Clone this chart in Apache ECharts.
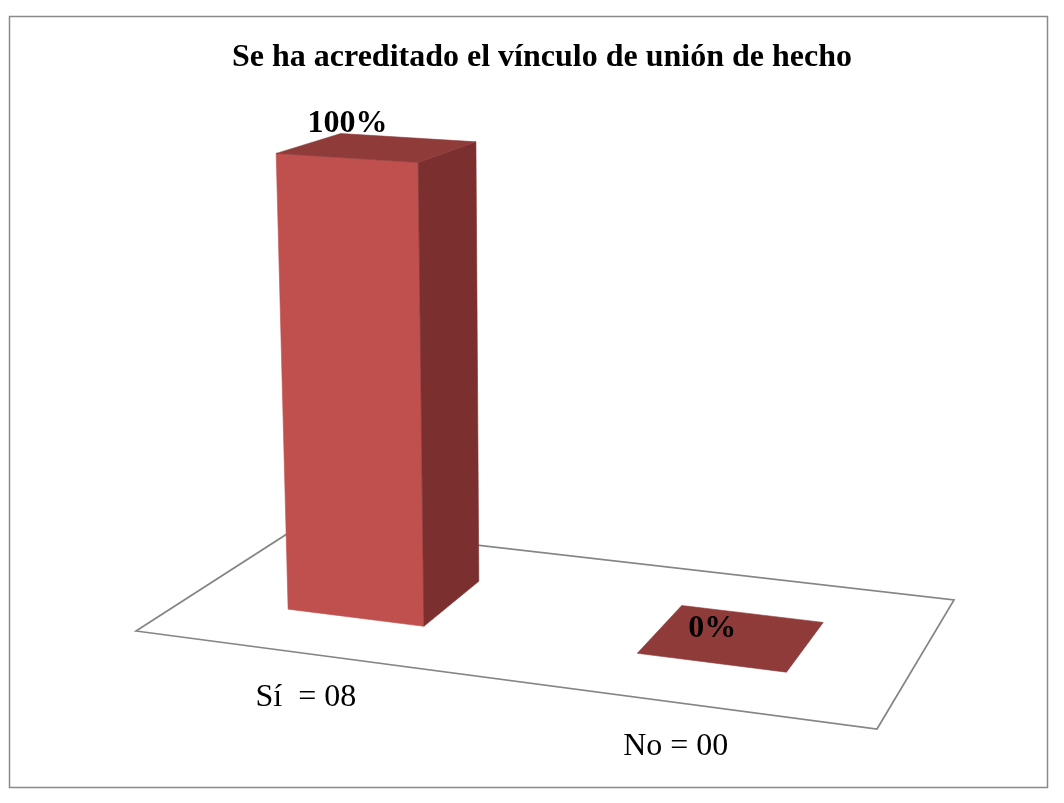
<!DOCTYPE html>
<html>
<head>
<meta charset="utf-8">
<script src="https://cdn.jsdelivr.net/npm/echarts@6/dist/echarts.min.js"></script>
<style>
html,body{margin:0;padding:0;background:#fff;}
#chart{width:1064px;height:803px;}
</style>
</head>
<body>
<div id="chart"></div>
<script>
// ---- data ----
const categories = ['Sí  = 08', 'No = 00'];
const values = [100, 0];
const valueLabels = ['100%', '0%'];
const titleText = 'Se ha acreditado el vínculo de unión de hecho';

// ---- 3D projection (layout): floor homography + height column ----
// screen = (a*u + b*v + c + qx*t, d*u + e*v + f + qy*t) / (g*u + h*v + 1 + qw*t)
const PROJ = {a:658.97, b:208.88, c:136, d:29.82, e:-29.46, f:631, g:-0.09353, h:0.14579,
              qx:-25, qy:-476, qw:-0.046};
const DEPTH_FRONT = 0.295, DEPTH_BACK = 0.694, BAR_FRACTION = 0.4;

function proj(u, v, t) {
  const P = PROJ;
  const w = P.g*u + P.h*v + 1 + P.qw*t;
  return [(P.a*u + P.b*v + P.c + P.qx*t)/w, (P.d*u + P.e*v + P.f + P.qy*t)/w];
}

const FRONT = '#C0504D', SIDE = '#7B2F2F', TOP = '#8E3B3A';
const SERIF = '"Liberation Serif","Times New Roman",serif';

function poly(pts, color) {
  return {type:'polygon', shape:{points:pts},
          style:{fill:color, stroke:color, lineWidth:0.6}};
}

function renderBar(params, api) {
  const cs = params.coordSys;
  const idx = api.value(0);
  const val = api.value(1);
  const base = api.coord([idx, 0]);
  const top = api.coord([idx, val]);
  const band = api.size([1, 0])[0];
  const uc = (base[0] - cs.x) / cs.width;
  const hw = band * BAR_FRACTION / 2 / cs.width;
  const t = (base[1] - top[1]) / cs.height;
  const u0 = uc - hw, u1 = uc + hw, v0 = DEPTH_FRONT, v1 = DEPTH_BACK;
  const children = [];
  if (t > 0) {
    children.push(poly([proj(u0,v0,0), proj(u1,v0,0), proj(u1,v0,t), proj(u0,v0,t)], FRONT));
    children.push(poly([proj(u1,v0,0), proj(u1,v1,0), proj(u1,v1,t), proj(u1,v0,t)], SIDE));
  }
  children.push(poly([proj(u0,v0,t), proj(u1,v0,t), proj(u1,v1,t), proj(u0,v1,t)], TOP));
  const lp = proj(uc, v0, t);
  children.push({type:'text', style:{text: valueLabels[params.dataIndex], x: lp[0] + 1, y: lp[1] - 34,
    align:'center', verticalAlign:'middle', fill:'#000',
    font:'bold 32px ' + SERIF}});
  const cp = proj(uc, 0, 0);
  children.push({type:'text', style:{text: categories[params.dataIndex], x: cp[0] - 2, y: cp[1] + 44,
    align:'center', verticalAlign:'middle', fill:'#000',
    font:'32px ' + SERIF}});
  return {type:'group', children};
}

function renderFloor(params, api) {
  const pts = [proj(0,0,0), proj(1,0,0), proj(1,1,0), proj(0,1,0)];
  return {type:'polygon', shape:{points:pts},
          style:{fill:'#fff', stroke:'#858585', lineWidth:1.7}};
}

const chart = echarts.init(document.getElementById('chart'), null, {renderer:'canvas'});
chart.setOption({
  backgroundColor:'#fff',
  animation:false,
  graphic:[
    {type:'rect', shape:{x:9.5, y:16.5, width:1038, height:771},
     style:{fill:'none', stroke:'#8a8a8a', lineWidth:1.5}, z:-10},
    {type:'text', x:542, y:58, style:{text:titleText, align:'center', verticalAlign:'middle',
      fill:'#000', font:'bold 32px ' + SERIF}}
  ],
  grid:{left:100, right:100, top:100, bottom:100},
  xAxis:{type:'category', data:categories, show:false},
  yAxis:{type:'value', min:0, max:100, show:false},
  series:[
    {type:'custom', name:'floor', renderItem:renderFloor, data:[[0]], z:1, silent:true},
    {type:'custom', name:'bars', renderItem:renderBar, z:2,
     data: values.map((v,i)=>[i, v])}
  ]
});
</script>
</body>
</html>
